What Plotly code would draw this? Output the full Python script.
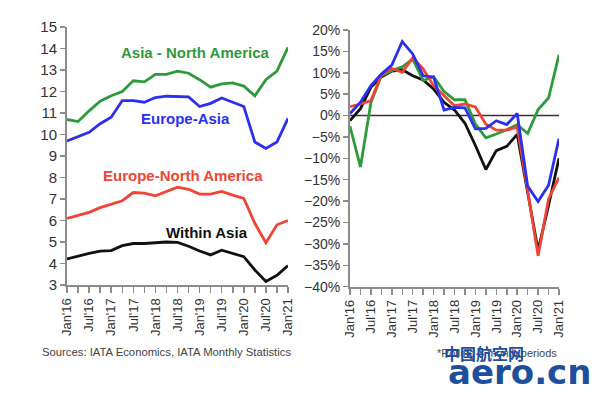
import plotly.graph_objects as go

W, H = 600, 395

quarters = ["Jan'16","Apr'16","Jul'16","Oct'16","Jan'17","Apr'17","Jul'17","Oct'17",
            "Jan'18","Apr'18","Jul'18","Oct'18","Jan'19","Apr'19","Jul'19","Oct'19",
            "Jan'20","Apr'20","Jul'20","Oct'20","Jan'21"]
tick_labels = [q if q.startswith(("Jan", "Jul")) else "" for q in quarters]

# Left panel: levels
asia_na = [10.7, 10.6, 11.1, 11.55, 11.8, 12.0, 12.5, 12.45, 12.8, 12.8, 12.95, 12.85,
           12.55, 12.2, 12.35, 12.4, 12.25, 11.8, 12.55, 12.95, 14.05]
europe_asia = [9.7, 9.9, 10.1, 10.5, 10.8, 11.58, 11.58, 11.5, 11.72, 11.78, 11.78, 11.75,
               11.3, 11.45, 11.7, 11.5, 11.3, 9.65, 9.35, 9.65, 10.75]
europe_na = [6.1, 6.25, 6.38, 6.6, 6.75, 6.92, 7.3, 7.27, 7.15, 7.35, 7.55, 7.45,
             7.23, 7.23, 7.35, 7.18, 7.03, 5.87, 4.97, 5.8, 6.0]
within_asia = [4.21, 4.35, 4.47, 4.58, 4.6, 4.83, 4.93, 4.93, 4.96, 5.0, 4.98, 4.8,
               4.58, 4.4, 4.62, 4.47, 4.32, 3.7, 3.16, 3.45, 3.9]

# Right panel: growth (%)
g_asia_na = [-2.5, -12.0, 3.0, 9.3, 10.5, 11.4, 13.2, 8.2, 9.1, 5.6, 3.7, 3.7,
             -2.0, -5.2, -4.3, -3.3, -2.1, -4.2, 1.4, 4.1, 14.2]
g_europe_asia = [0.5, 3.1, 7.0, 9.7, 11.8, 17.3, 14.4, 9.3, 9.0, 1.3, 1.9, 1.8,
                 -3.1, -3.0, -1.2, -2.1, 0.5, -16.5, -20.1, -16.3, -5.4]
g_europe_na = [2.1, 2.7, 3.5, 9.5, 11.0, 10.1, 13.5, 10.9, 7.0, 4.7, 2.3, 2.7,
               2.0, -2.0, -3.4, -3.4, -2.7, -17.5, -32.8, -19.5, -14.5]
g_within_asia = [-1.2, 1.6, 6.6, 9.0, 10.4, 10.7, 9.3, 8.3, 6.2, 3.1, 1.3, -1.8,
                 -7.0, -12.6, -8.2, -7.2, -4.4, -18.0, -31.5, -21.0, -10.0]

GREEN = "#2f9a3c"
BLUE = "#2a2ff0"
RED = "#f04434"
BLACK = "#111111"
AXIS = "#8c8c8c"
TXT = "#333333"
FONT = "Liberation Sans, Arial, sans-serif"

x = list(range(len(quarters)))

fig = go.Figure()

def add(vals, color, xa, ya):
    fig.add_trace(go.Scatter(x=x, y=vals, mode="lines", xaxis=xa, yaxis=ya,
                             line=dict(color=color, width=2.8), showlegend=False,
                             hoverinfo="skip"))

add(asia_na, GREEN, "x", "y")
add(europe_asia, BLUE, "x", "y")
add(europe_na, RED, "x", "y")
add(within_asia, BLACK, "x", "y")

# zero line on right
fig.add_trace(go.Scatter(x=[0, 20], y=[0, 0], mode="lines", xaxis="x2", yaxis="y2",
                         line=dict(color="#333333", width=1.6), showlegend=False,
                         hoverinfo="skip"))
add(g_within_asia, BLACK, "x2", "y2")
add(g_asia_na, GREEN, "x2", "y2")
add(g_europe_na, RED, "x2", "y2")
add(g_europe_asia, BLUE, "x2", "y2")

def px(v):
    return v / W

def py(v):
    return (H - v) / H

xcommon = dict(range=[0, 20], tickmode="array", tickvals=x, ticktext=tick_labels,
               tickangle=-90, ticks="outside", ticklen=6, tickwidth=1.5, tickcolor=AXIS,
               showline=True, linecolor=AXIS, linewidth=2, showgrid=False, zeroline=False,
               automargin=False,
               tickfont=dict(family=FONT, size=13, color=TXT), fixedrange=True)

fig.update_layout(
    width=W, height=H,
    margin=dict(l=0, r=0, t=0, b=0, autoexpand=False),
    paper_bgcolor="white", plot_bgcolor="white",
    font=dict(family=FONT, color=TXT),
    xaxis=dict(domain=[px(67), px(288)], anchor="y", **xcommon),
    yaxis=dict(domain=[py(285), py(27)], range=[3, 15], anchor="x", dtick=1,
               ticks="outside", ticklen=5, tickwidth=1.5, tickcolor=AXIS,
               showline=True, linecolor=AXIS, linewidth=2, showgrid=False,
               zeroline=False, automargin=False,
               tickfont=dict(family=FONT, size=15, color=TXT)),
    xaxis2=dict(domain=[px(350), px(559)], anchor="y2", **xcommon),
    yaxis2=dict(domain=[py(286.7), py(30)], range=[-40, 20], anchor="x2", dtick=5,
                ticksuffix="%", ticks="outside", ticklen=5, tickwidth=1.5, tickcolor=AXIS,
                showline=True, linecolor=AXIS, linewidth=2, showgrid=False,
                zeroline=False, automargin=False,
                tickfont=dict(family=FONT, size=14, color=TXT)),
)

def label(text, xc, yc, color, size=15, bold=True, xanchor="center", family=FONT):
    fig.add_annotation(text=f"<b>{text}</b>" if bold else text, x=px(xc), y=py(yc),
                       xref="paper", yref="paper", showarrow=False, xanchor=xanchor,
                       yanchor="middle", font=dict(family=family, size=size, color=color))

label("Asia - North America", 195, 52, GREEN)
label("Europe-Asia", 185, 118, BLUE)
label("Europe-North America", 183, 175, RED)
label("Within Asia", 207, 232, BLACK)

label("Sources: IATA Economics, IATA Monthly Statistics", 166, 352, "#444444",
      size=11.3, bold=False)
label("*Rolling 3 month periods", 497, 353, "#444444", size=11, bold=False)

# watermark
label("中国航空网", 484, 353, "#1d4f9c", size=16, family="Noto Sans CJK SC")
label("aero.cn", 519, 372, "#1d4f9c", size=34, family="DejaVu Sans")

fig.write_html("out.html", config={"displayModeBar": False, "staticPlot": True},
               post_script="document.body.style.margin='0';document.body.style.overflow='hidden';")
